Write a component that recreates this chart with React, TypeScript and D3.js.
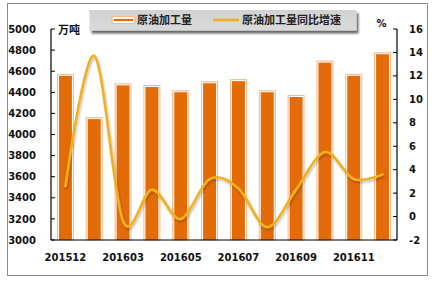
import React from "react";
import * as d3 from "d3";

const categories = ["201512", "201602", "201603", "201604", "201605", "201606", "201607", "201608", "201609", "201610", "201611", "201612"];
const tickLabels = ["201512", "201603", "201605", "201607", "201609", "201611"];
const output = [4570, 4160, 4480, 4465, 4415, 4500, 4520, 4415, 4370, 4695, 4570, 4775];
const growth = [2.6, 13.7, -0.4, 2.3, -0.2, 3.2, 2.4, -0.9, 2.3, 5.5, 3.2, 3.6];
const leftTicks = [3000, 3200, 3400, 3600, 3800, 4000, 4200, 4400, 4600, 4800, 5000];
const rightTicks = [-2, 0, 2, 4, 6, 8, 10, 12, 14, 16];

const W = 437, H = 283;
const X0 = 51, X1 = 397, YT = 29, YB = 240;
const FONT = "'DejaVu Sans', 'Noto Sans CJK SC', sans-serif";

export default function App() {
  const x = d3.scaleBand<string>().domain(categories).range([X0, X1]).padding(0);
  const yL = d3.scaleLinear().domain([3000, 5000]).range([YB, YT]);
  const yR = d3.scaleLinear().domain([-2, 16]).range([YB, YT]);
  const cx = (c: string) => (x(c) as number) + x.bandwidth() / 2;
  const line = d3
    .line<number>()
    .x((_, i) => cx(categories[i]))
    .y((d) => yR(d))
    .curve(d3.curveCardinal.tension(0));
  const outerW = 16, innerW = 13;
  return (
    <svg width={W} height={H} style={{ position: "absolute", left: 0, top: 0 }}>
      <defs>
        <linearGradient id="lg" x1="0" y1="0" x2="0" y2="1">
          <stop offset="0" stopColor="#d2d2d2" />
          <stop offset="1" stopColor="#dadada" />
        </linearGradient>
        <filter id="sh" x="-20%" y="-20%" width="140%" height="180%">
          <feGaussianBlur in="SourceAlpha" stdDeviation="1.2" />
          <feOffset dx="2" dy="2.5" />
          <feComponentTransfer><feFuncA type="linear" slope="0.6" /></feComponentTransfer>
          <feMerge><feMergeNode /><feMergeNode in="SourceGraphic" /></feMerge>
        </filter>
        <filter id="lsh" x="-10%" y="-10%" width="120%" height="120%">
          <feGaussianBlur in="SourceAlpha" stdDeviation="0.8" />
          <feOffset dx="1" dy="1.5" />
          <feComponentTransfer><feFuncA type="linear" slope="0.25" /></feComponentTransfer>
          <feMerge><feMergeNode /><feMergeNode in="SourceGraphic" /></feMerge>
        </filter>
      </defs>
      <rect x={0} y={0} width={W} height={H} fill="#fff" />
      <rect x={7.5} y={3.5} width={420} height={272} fill="#fff" stroke="#8c8c8c" strokeWidth={1} />

      {/* bars */}
      {categories.map((c, i) => {
        const xc = cx(c);
        const top = yL(output[i]);
        return (
          <g key={c}>
            <rect x={xc - outerW / 2} y={top} width={outerW} height={YB - top} fill="#fff" stroke="#f8b888" strokeWidth={1} />
            <rect x={xc - innerW / 2} y={top + 1.5} width={innerW} height={YB - top - 1.5} fill="#e36c09" />
          </g>
        );
      })}

      {/* line */}
      <path d={line(growth) || ""} fill="none" stroke="#f2b01e" strokeWidth={2.6} strokeLinecap="round" filter="url(#lsh)" />

      {/* axes */}
      <line x1={X0} y1={YT} x2={X0} y2={YB} stroke="#000" strokeWidth={1.2} />
      <line x1={X1} y1={YT} x2={X1} y2={YB} stroke="#000" strokeWidth={1.2} />
      <line x1={X0} y1={YB} x2={X1} y2={YB} stroke="#000" strokeWidth={1.2} />
      {leftTicks.map((t) => (
        <g key={"l" + t}>
          <line x1={X0} x2={X0 + 4} y1={yL(t)} y2={yL(t)} stroke="#000" strokeWidth={1} />
          <text x={36} y={yL(t)} dy="0.36em" textAnchor="end" fontFamily={FONT} fontWeight="bold" fontSize={10} fill="#111">{t}</text>
        </g>
      ))}
      {rightTicks.map((t) => (
        <g key={"r" + t}>
          <line x1={X1 - 4} x2={X1} y1={yR(t)} y2={yR(t)} stroke="#000" strokeWidth={1} />
          <text x={409} y={yR(t)} dy="0.36em" textAnchor="start" fontFamily={FONT} fontWeight="bold" fontSize={10} fill="#111">{t}</text>
        </g>
      ))}
      {tickLabels.map((t) => (
        <text key={t} x={cx(t)} y={261} textAnchor="middle" fontFamily={FONT} fontWeight="bold" fontSize={10} fill="#111">{t}</text>
      ))}
      <text x={58} y={34} fontFamily={FONT} fontWeight="bold" fontSize={11} fill="#111">万吨</text>
      <text x={381.5} y={27} textAnchor="middle" fontFamily={FONT} fontWeight="bold" fontSize={10} fill="#111">%</text>

      {/* legend */}
      <rect x={89.5} y={10} width={267} height={20.5} fill="url(#lg)" filter="url(#sh)" />
      <rect x={112} y={16.5} width={23} height={7} rx={2} fill="#fff" stroke="#f8b888" strokeWidth={1.2} />
      <line x1={114} x2={133} y1={20} y2={20} stroke="#e36c09" strokeWidth={2.2} />
      <text x={137} y={24} fontFamily={FONT} fontWeight="bold" fontSize={11} fill="#222">原油加工量</text>
      <line x1={213} x2={239} y1={20} y2={20} stroke="#f2b01e" strokeWidth={2.6} />
      <text x={242} y={24} fontFamily={FONT} fontWeight="bold" fontSize={11} fill="#222">原油加工量同比增速</text>
    </svg>
  );
}
